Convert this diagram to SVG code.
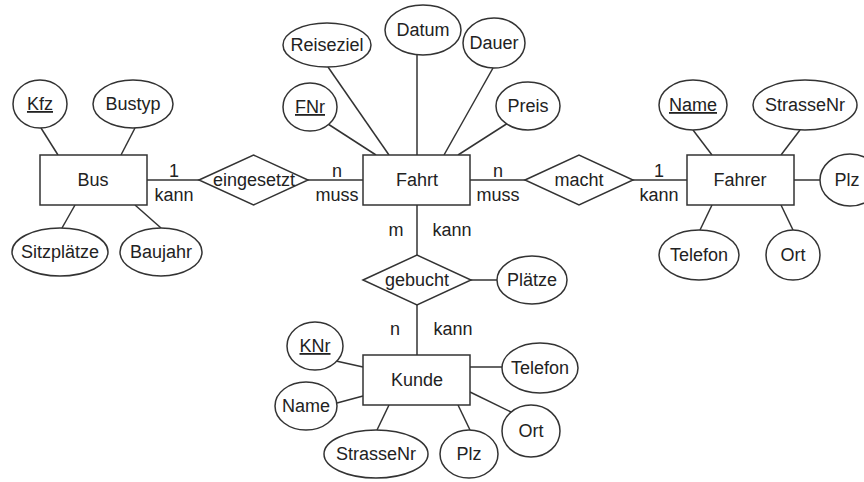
<svg xmlns="http://www.w3.org/2000/svg" width="864" height="482" viewBox="0 0 864 482">
<style>
rect.e, ellipse, polygon.r { fill: #fff; stroke: #333; stroke-width: 1.5; }
line { stroke: #333; stroke-width: 1.5; }
text { font-family: "Liberation Sans", Arial, sans-serif; font-size: 18px; fill: #222; text-anchor: middle; }
.u { text-decoration: underline; }
</style>
<rect width="864" height="482" fill="#fff"/>
<g id="connectors">
  <line x1="41" y1="128" x2="58" y2="155"/>
  <line x1="135" y1="128" x2="121" y2="155"/>
  <line x1="75" y1="205" x2="62" y2="228"/>
  <line x1="135" y1="205" x2="161" y2="228"/>
  <line x1="147" y1="180" x2="199" y2="180"/>
  <line x1="308" y1="180" x2="363" y2="180"/>
  <line x1="470" y1="180" x2="525" y2="180"/>
  <line x1="633" y1="180" x2="687" y2="180"/>
  <line x1="693" y1="130" x2="712" y2="155"/>
  <line x1="800" y1="130" x2="781" y2="155"/>
  <line x1="794" y1="180" x2="820" y2="180"/>
  <line x1="712" y1="205" x2="700" y2="230"/>
  <line x1="781" y1="205" x2="793" y2="230"/>
  <line x1="328" y1="124" x2="376" y2="155"/>
  <line x1="328" y1="67" x2="389" y2="155"/>
  <line x1="417" y1="55" x2="417" y2="155"/>
  <line x1="493" y1="68" x2="444" y2="155"/>
  <line x1="508" y1="123" x2="458" y2="155"/>
  <line x1="417" y1="205" x2="417" y2="255"/>
  <line x1="471" y1="280" x2="497" y2="280"/>
  <line x1="417" y1="305" x2="417" y2="355"/>
  <line x1="336" y1="361" x2="363" y2="367"/>
  <line x1="337" y1="403" x2="363" y2="396"/>
  <line x1="389" y1="405" x2="377" y2="430"/>
  <line x1="458" y1="405" x2="470" y2="430"/>
  <line x1="470" y1="392" x2="511" y2="412"/>
  <line x1="470" y1="367" x2="502" y2="367"/>
  <text x="174" y="177">1</text>
  <text x="174" y="201">kann</text>
  <text x="337" y="177">n</text>
  <text x="337" y="201">muss</text>
  <text x="498" y="177">n</text>
  <text x="498" y="201">muss</text>
  <text x="659" y="177">1</text>
  <text x="659" y="201">kann</text>
  <text x="396" y="236">m</text>
  <text x="452" y="236">kann</text>
  <text x="395" y="335">n</text>
  <text x="453" y="335">kann</text>
</g>
<g id="Bus">
  <rect class="e" x="40" y="155" width="107" height="50"/>
  <text x="93" y="186">Bus</text>
</g>
<g id="Bus-Kfz"><ellipse cx="40" cy="104" rx="27" ry="24"/><text class="u" x="40" y="110">Kfz</text></g>
<g id="Bus-Bustyp"><ellipse cx="133" cy="104" rx="40" ry="24"/><text x="133" y="110">Bustyp</text></g>
<g id="Bus-Sitzplaetze"><ellipse cx="60" cy="252" rx="48" ry="24"/><text x="60" y="258">Sitzplätze</text></g>
<g id="Bus-Baujahr"><ellipse cx="161" cy="252" rx="41" ry="24"/><text x="161" y="258">Baujahr</text></g>
<g id="eingesetzt">
  <polygon class="r" points="199,180 253.5,155 308,180 253.5,205"/>
  <text x="254" y="186">eingesetzt</text>
</g>
<g id="Fahrt">
  <rect class="e" x="363" y="155" width="107" height="50"/>
  <text x="417" y="186">Fahrt</text>
</g>
<g id="Fahrt-FNr"><ellipse cx="310" cy="107" rx="27" ry="24"/><text class="u" x="310" y="113">FNr</text></g>
<g id="Fahrt-Reiseziel"><ellipse cx="327" cy="45" rx="44" ry="22"/><text x="327" y="51">Reiseziel</text></g>
<g id="Fahrt-Datum"><ellipse cx="423" cy="30" rx="38" ry="25"/><text x="423" y="36">Datum</text></g>
<g id="Fahrt-Dauer"><ellipse cx="494" cy="43" rx="31" ry="25"/><text x="494" y="49">Dauer</text></g>
<g id="Fahrt-Preis"><ellipse cx="528" cy="106" rx="32" ry="24"/><text x="528" y="112">Preis</text></g>
<g id="macht">
  <polygon class="r" points="525,180 579,155 633,180 579,205"/>
  <text x="579" y="186">macht</text>
</g>
<g id="Fahrer">
  <rect class="e" x="687" y="155" width="107" height="50"/>
  <text x="740" y="186">Fahrer</text>
</g>
<g id="Fahrer-Name"><ellipse cx="693" cy="105" rx="34" ry="25"/><text class="u" x="693" y="111">Name</text></g>
<g id="Fahrer-StrasseNr"><ellipse cx="805" cy="105" rx="52" ry="25"/><text x="805" y="111">StrasseNr</text></g>
<g id="Fahrer-Plz"><ellipse cx="850" cy="180" rx="30" ry="26"/><text x="847" y="186">Plz</text></g>
<g id="Fahrer-Telefon"><ellipse cx="699" cy="255" rx="40" ry="25"/><text x="699" y="261">Telefon</text></g>
<g id="Fahrer-Ort"><ellipse cx="793" cy="255" rx="27" ry="25"/><text x="793" y="261">Ort</text></g>
<g id="gebucht">
  <polygon class="r" points="363,280 417,255 471,280 417,305"/>
  <text x="417" y="286">gebucht</text>
</g>
<g id="gebucht-Plaetze"><ellipse cx="532" cy="280" rx="35" ry="24"/><text x="532" y="286">Plätze</text></g>
<g id="Kunde">
  <rect class="e" x="363" y="355" width="107" height="50"/>
  <text x="417" y="386">Kunde</text>
</g>
<g id="Kunde-KNr"><ellipse cx="315" cy="346" rx="28" ry="24"/><text class="u" x="315" y="352">KNr</text></g>
<g id="Kunde-Name"><ellipse cx="306" cy="406" rx="31" ry="24"/><text x="306" y="412">Name</text></g>
<g id="Kunde-StrasseNr"><ellipse cx="376" cy="454" rx="52" ry="24"/><text x="376" y="460">StrasseNr</text></g>
<g id="Kunde-Plz"><ellipse cx="469" cy="454" rx="29" ry="24"/><text x="469" y="460">Plz</text></g>
<g id="Kunde-Ort"><ellipse cx="531" cy="431" rx="29" ry="26"/><text x="531" y="437">Ort</text></g>
<g id="Kunde-Telefon"><ellipse cx="540" cy="368" rx="38" ry="25"/><text x="540" y="374">Telefon</text></g>
</svg>
